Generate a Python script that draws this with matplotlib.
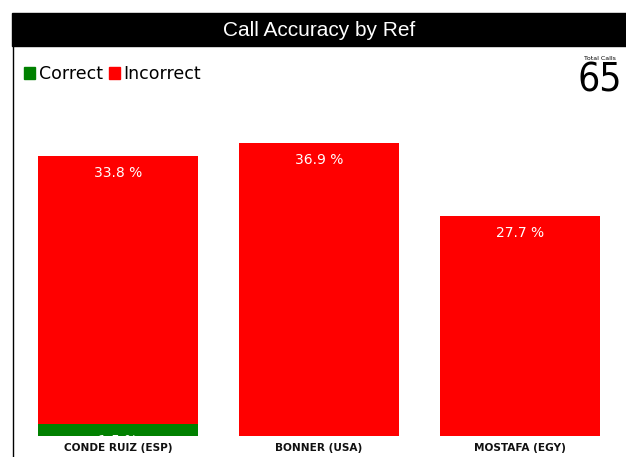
import matplotlib.pyplot as plt
from matplotlib.patches import Rectangle, Patch

# DATA
refs = ["CONDE RUIZ (ESP)", "BONNER (USA)", "MOSTAFA (EGY)"]
correct = [1.5, 0.0, 0.0]
incorrect = [33.8, 36.9, 27.7]
total_calls = 65

COLOR_OK = "#008000"
COLOR_BAD = "#ff0000"

W, H = 626, 457
fig = plt.figure(figsize=(W / 100, H / 100), dpi=100)

# title band and left border
fig.patches.append(Rectangle((12 / W, 1 - 46 / H), 1 - 12 / W, 33 / H,
                             transform=fig.transFigure, color="black", zorder=0))
fig.lines.append(plt.Line2D([12.5 / W, 12.5 / W], [0, 1 - 46 / H],
                            transform=fig.transFigure, color="black", lw=1))
fig.text(0.5 + 6 / W, 1 - 30 / H, "Call Accuracy by Ref", color="white",
         fontsize=15, family="Liberation Sans", ha="center", va="center")

# total calls
fig.text(600 / W, 1 - 59 / H, "Total Calls", fontsize=4.5, ha="center", va="center")
fig.text(600 / W, 1 - 81 / H, str(total_calls), fontsize=28, ha="center",
         va="center", stretch="condensed")

# legend
fig.legend(handles=[Patch(color=COLOR_OK, label="Correct"),
                    Patch(color=COLOR_BAD, label="Incorrect")],
           loc="upper left", bbox_to_anchor=(24 / W, 1 - 65 / H), ncol=2,
           frameon=False, fontsize=12.5, handlelength=0.65, handleheight=0.65,
           handletextpad=0.2, columnspacing=0.35, borderaxespad=0, borderpad=0)

ax = fig.add_axes([17.5 / W, 1 - 436 / H, 603 / W, 336 / H])
x = range(len(refs))
ax.bar(x, correct, width=0.8, color=COLOR_OK)
ax.bar(x, incorrect, width=0.8, bottom=correct, color=COLOR_BAD)

for i in x:
    if correct[i] > 0:
        ax.annotate(f"{correct[i]:.1f} %", (i, correct[i]), xytext=(0, -12.5),
                    textcoords="offset points", ha="center", va="center",
                    color="white", fontsize=10, clip_on=True,
                    annotation_clip=True)
    ax.annotate(f"{incorrect[i]:.1f} %", (i, correct[i] + incorrect[i]),
                xytext=(0, -12.5), textcoords="offset points", ha="center",
                va="center", color="white", fontsize=10)

ax.set_xlim(-0.5, 2.5)
ax.set_ylim(0, 336 / 7.94)
ax.set_xticks(list(x))
ax.set_xticklabels(refs, fontsize=7.6, fontweight="bold", color="#111111")
ax.tick_params(axis="x", length=0, pad=5)
ax.set_yticks([])
for s in ax.spines.values():
    s.set_visible(False)

plt.savefig("out.png", dpi=100)
